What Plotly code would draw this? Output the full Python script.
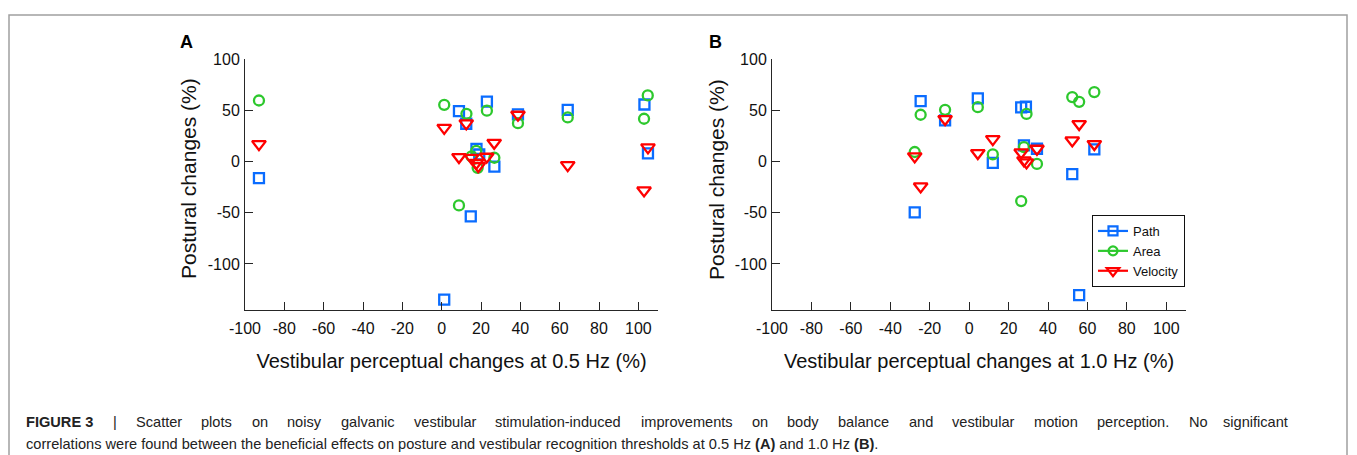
import plotly.graph_objects as go

# ---------------- data ----------------
# Panel A: vestibular perceptual changes at 0.5 Hz (%) vs postural changes (%)
path_a_x = [-92.9, 1.3, 8.8, 12.5, 14.8, 17.7, 19.1, 23.0, 26.8, 38.8, 64.1, 103.1, 104.9]
path_a_y = [-16.3, -134.9, 49.2, 36.8, -53.7, 12.2, 6.8, 58.4, -5.0, 45.9, 50.4, 55.6, 7.8]
area_a_x = [-92.9, 1.3, 8.8, 12.6, 15.2, 17.6, 18.3, 23.0, 26.8, 38.8, 64.1, 102.9, 104.8]
area_a_y = [59.5, 55.3, -42.9, 46.5, 4.9, 10.4, -6.2, 49.6, 3.6, 37.4, 43.0, 41.7, 64.4]
vel_a_x = [-92.9, 1.3, 8.8, 12.5, 15.2, 17.6, 18.6, 22.9, 26.7, 38.8, 64.1, 102.9, 104.9]
vel_a_y = [16.9, 32.8, 4.3, 37.2, 3.5, -1.5, -4.5, 4.6, 18.2, 45.6, -3.6, -28.3, 13.7]

# Panel B: vestibular perceptual changes at 1.0 Hz (%) vs postural changes (%)
path_b_x = [-27.6, -24.6, -12.2, 4.4, 12.0, 26.4, 28.8, 27.8, 34.4, 52.3, 55.8, 63.5]
path_b_y = [-49.7, 58.9, 40.0, 61.5, -1.3, 52.7, 53.4, 15.6, 12.4, -12.3, -130.4, 11.7]
area_b_x = [-27.6, -24.6, -12.2, 4.4, 12.0, 26.4, 27.8, 29.1, 34.4, 52.3, 55.8, 63.5]
area_b_y = [9.2, 45.6, 50.4, 53.0, 6.9, -38.7, 14.0, 46.4, -2.4, 62.8, 58.2, 67.7]
vel_b_x = [-27.6, -24.6, -12.2, 4.4, 12.0, 26.4, 27.8, 29.1, 34.4, 52.3, 55.8, 63.5]
vel_b_y = [5.0, -24.4, 41.4, 8.2, 21.8, 8.8, 1.0, -1.0, 12.4, 20.5, 36.5, 17.0]

series_names = ["Path", "Area", "Velocity"]
x_ticks = [-100, -80, -60, -40, -20, 0, 20, 40, 60, 80, 100]
x_tick_labels = ["-100", "-80", "-60", "-40", "-20", "0", "20", "40", "60", "80", "100"]
y_ticks = [-100, -50, 0, 50, 100]
y_tick_labels = ["-100", "-50", "0", "50", "100"]
x_titles = ["Vestibular perceptual changes at 0.5 Hz (%)",
            "Vestibular perceptual changes at 1.0 Hz (%)"]
y_title = "Postural changes (%)"
panel_labels = ["A", "B"]
caption_line1_words = ["FIGURE 3", "|", "Scatter", "plots", "on", "noisy", "galvanic", "vestibular",
                       "stimulation-induced", "improvements", "on", "body", "balance", "and",
                       "vestibular", "motion", "perception.", "No", "significant"]
caption_line2 = ("correlations were found between the beneficial effects on posture and vestibular "
                 "recognition thresholds at 0.5 Hz <b>(A)</b> and 1.0 Hz <b>(B)</b>.")

# ---------------- style ----------------
VIEW_W, VIEW_H = 1357, 455
OFF = 8                      # the page body margin shifts the figure by 8 px
W, H = VIEW_W - OFF, VIEW_H - OFF
FONT = "Liberation Sans, Arial, Helvetica, sans-serif"
colors = {"Path": "rgb(10,108,255)", "Area": "rgb(45,200,45)", "Velocity": "rgb(255,0,0)"}
symbols = {"Path": "square-open", "Area": "circle-open", "Velocity": "triangle-down-open"}
sizes = {"Path": 10, "Area": 10, "Velocity": 12}
CAP_SIZE = 14.6

# Helvetica/Arial advance widths (1/1000 em) used to justify the first caption line
_W = {' ': 278, 'a': 556, 'b': 556, 'c': 500, 'd': 556, 'e': 556, 'f': 278, 'g': 556, 'h': 556,
      'i': 222, 'j': 222, 'k': 500, 'l': 222, 'm': 833, 'n': 556, 'o': 556, 'p': 556, 'q': 556,
      'r': 333, 's': 500, 't': 278, 'u': 556, 'v': 500, 'w': 722, 'x': 500, 'y': 500, 'z': 500,
      'N': 722, 'S': 667, '.': 278, '-': 333, '|': 260}
_WB = {'F': 611, 'I': 278, 'G': 778, 'U': 722, 'R': 722, 'E': 667, ' ': 278, '3': 556}


def text_w(s, size, bold=False):
    table = _WB if bold else _W
    return sum(table.get(c, 556) for c in s) / 1000.0 * size


def px_x(p):
    """screen pixel x -> paper fraction"""
    return (p - OFF) / W


def px_y(p):
    """screen pixel y (from top) -> paper fraction"""
    return 1 - (p - OFF) / H


fig = go.Figure()

panels = [
    ("x", "y", {"Path": (path_a_x, path_a_y), "Area": (area_a_x, area_a_y), "Velocity": (vel_a_x, vel_a_y)}),
    ("x2", "y2", {"Path": (path_b_x, path_b_y), "Area": (area_b_x, area_b_y), "Velocity": (vel_b_x, vel_b_y)}),
]
for xa, ya, data in panels:
    for name in series_names:
        xs, ys = data[name]
        fig.add_trace(go.Scatter(
            x=xs, y=ys, mode="markers", name=name, showlegend=False,
            xaxis=xa, yaxis=ya,
            marker=dict(symbol=symbols[name], size=sizes[name], color=colors[name],
                        line=dict(width=2.3, color=colors[name])),
            hoverinfo="x+y",
        ))

# legend entries (line + marker, as in the original legend)
for name in series_names:
    fig.add_trace(go.Scatter(
        x=[None], y=[None], mode="lines+markers", name=name, showlegend=True,
        xaxis="x2", yaxis="y2",
        line=dict(color=colors[name], width=2.2),
        marker=dict(symbol=symbols[name], size=sizes[name] - 1, color=colors[name],
                    line=dict(width=2.2, color=colors[name])),
    ))

axis_common = dict(
    showline=True, linecolor="#262626", linewidth=1,
    ticks="inside", ticklen=8, tickcolor="#262626", tickwidth=1,
    showgrid=False, zeroline=False, automargin=False,
    tickfont=dict(family=FONT, size=16, color="#111111"),
    mirror=False,
)

ydom = [px_y(310), px_y(59)]
xdomA = [px_x(245), px_x(658)]
xdomB = [px_x(772), px_x(1186)]

xt_font = dict(family=FONT, size=20, color="#111111")

fig.update_layout(
    width=W, height=H,
    margin=dict(l=0, r=0, t=0, b=0, pad=0, autoexpand=False),
    paper_bgcolor="white", plot_bgcolor="white",
    font=dict(family=FONT, color="#111111"),
    xaxis=dict(domain=xdomA, range=[-100, 110], tickvals=x_ticks, ticktext=x_tick_labels, anchor="y",
               title=dict(text=x_titles[0], font=xt_font, standoff=17),
               ticklabelstandoff=4, **axis_common),
    yaxis=dict(domain=ydom, range=[-145, 100], tickvals=y_ticks, ticktext=y_tick_labels, anchor="x",
               ticklabelstandoff=1, **axis_common),
    xaxis2=dict(domain=xdomB, range=[-100, 110], tickvals=x_ticks, ticktext=x_tick_labels, anchor="y2",
                title=dict(text=x_titles[1], font=xt_font, standoff=17),
                ticklabelstandoff=4, **axis_common),
    yaxis2=dict(domain=ydom, range=[-145, 100], tickvals=y_ticks, ticktext=y_tick_labels, anchor="x2",
                ticklabelstandoff=1, **axis_common),
    legend=dict(x=px_x(1092), y=px_y(215), xanchor="left", yanchor="top",
                bgcolor="white", bordercolor="#111111", borderwidth=1,
                font=dict(family=FONT, size=13, color="#111111"),
                itemwidth=30, tracegroupgap=0),
    showlegend=True,
)

# y axis titles (rotated), placed like the original
for xp in [188, 716]:
    fig.add_annotation(x=px_x(xp), y=px_y(179), xref="paper", yref="paper",
                       text=y_title, textangle=-90, showarrow=False,
                       font=dict(family=FONT, size=21, color="#111111"),
                       xanchor="center", yanchor="middle")

# panel letters
for lbl, xp in zip(panel_labels, [186, 715]):
    fig.add_annotation(x=px_x(xp), y=px_y(42), xref="paper", yref="paper",
                       text=f"<b>{lbl}</b>", showarrow=False,
                       font=dict(family=FONT, size=18, color="black"),
                       xanchor="center", yanchor="middle")

# caption, first line justified between x=24 and x=1290 (as in the journal layout)
cap_font = dict(family=FONT, size=CAP_SIZE, color="#222222")
x_left, x_right = 24, 1290
widths = [text_w(w, CAP_SIZE, bold=(i == 0)) for i, w in enumerate(caption_line1_words)]
gap = (x_right - x_left - sum(widths)) / (len(caption_line1_words) - 1)
xpos = x_left
for i, (word, wd) in enumerate(zip(caption_line1_words, widths)):
    txt = f"<b>{word}</b>" if i == 0 else word
    last = i == len(caption_line1_words) - 1
    fig.add_annotation(x=px_x(x_right if last else xpos), y=px_y(422), xref="paper", yref="paper",
                       text=txt, showarrow=False, xanchor="right" if last else "left",
                       yanchor="middle", font=cap_font)
    xpos += wd + gap

fig.add_annotation(x=px_x(x_left), y=px_y(444), xref="paper", yref="paper",
                   text=caption_line2, showarrow=False, xanchor="left", yanchor="middle",
                   font=cap_font)

# figure frame
fig.add_shape(type="rect", xref="paper", yref="paper",
              x0=px_x(9), x1=px_x(1347), y0=px_y(470), y1=px_y(15),
              line=dict(color="#a0a0a0", width=1.5), fillcolor="rgba(0,0,0,0)", layer="below")

fig.write_html("out.html")
